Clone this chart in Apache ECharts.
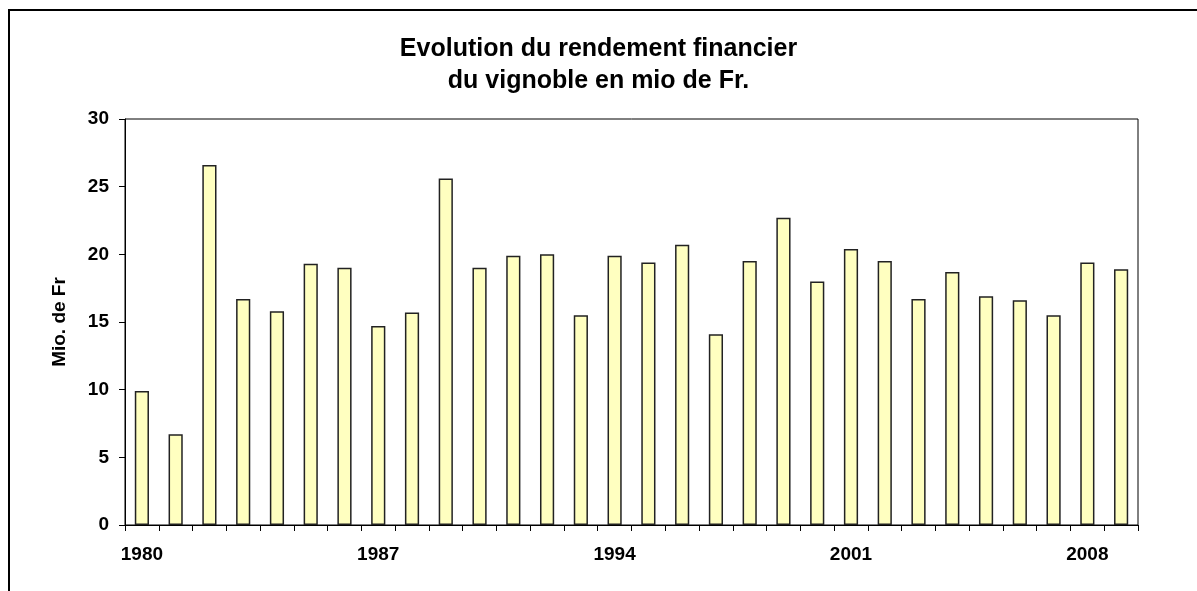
<!DOCTYPE html>
<html>
<head>
<meta charset="utf-8">
<script src="https://cdn.jsdelivr.net/npm/echarts@6/dist/echarts.min.js"></script>
<style>
    html, body { margin: 0; padding: 0; background: #fff; }
    #chart { width: 1197px; height: 591px; }
</style>
</head>
<body>
<div id="chart"></div>
<script>
    var years = [];
    for (var y = 1980; y <= 2009; y++) {
        years.push(String(y));
    }
    // rendement en mio de Fr.
    var rendement = [
        9.9, 6.7, 26.6, 16.7, 15.8, 19.3, 19.0, 14.7, 15.7, 25.6,
        19.0, 19.9, 20.0, 15.5, 19.9, 19.4, 20.7, 14.1, 19.5, 22.7,
        18.0, 20.4, 19.5, 16.7, 18.7, 16.9, 16.6, 15.5, 19.4, 18.9
    ];
    var yTicks = [0, 5, 10, 15, 20, 25, 30];

    var font = 'Liberation Sans, Arial, sans-serif';
    var chart = echarts.init(document.getElementById('chart'));

    var option = {
        animation: false,
        title: {
            text: 'Evolution du rendement financier\ndu vignoble en mio de Fr.',
            left: 'center',
            top: 28,
            textStyle: {
                fontFamily: font,
                fontWeight: 'bold',
                fontSize: 25,
                lineHeight: 32,
                color: '#000'
            }
        },
        graphic: [
            {
                type: 'rect',
                shape: {x: 9, y: 10, width: 1400, height: 800},
                style: {fill: 'none', stroke: '#000', lineWidth: 2}
            }
        ],
        grid: {
            left: 125,
            right: 59,
            top: 119,
            bottom: 66,
            show: true,
            borderColor: '#000',
            borderWidth: 1
        },
        xAxis: {
            type: 'category',
            data: years,
            boundaryGap: true,
            axisLine: {lineStyle: {color: '#000', width: 1}},
            axisTick: {show: true, interval: 0, length: 6, lineStyle: {color: '#000'}},
            axisLabel: {
                interval: 6,
                margin: 20,
                fontFamily: font,
                fontWeight: 'bold',
                fontSize: 19,
                color: '#000'
            },
            splitLine: {show: false}
        },
        yAxis: {
            type: 'value',
            min: yTicks[0],
            max: yTicks[yTicks.length - 1],
            interval: 5,
            name: 'Mio. de Fr',
            nameLocation: 'middle',
            nameGap: 56,
            nameTextStyle: {
                fontFamily: font,
                fontWeight: 'bold',
                fontSize: 19,
                color: '#000'
            },
            axisLine: {show: true, lineStyle: {color: '#000', width: 1}},
            axisTick: {show: true, length: 6, lineStyle: {color: '#000'}},
            axisLabel: {
                margin: 16,
                fontFamily: font,
                fontWeight: 'bold',
                fontSize: 19,
                color: '#000'
            },
            splitLine: {show: false}
        },
        series: [
            {
                name: 'Rendement',
                type: 'bar',
                data: rendement,
                barWidth: '42%',
                itemStyle: {
                    color: '#FFFFC0',
                    borderColor: '#222',
                    borderWidth: 1.5
                }
            }
        ]
    };
    chart.setOption(option);
</script>
</body>
</html>
